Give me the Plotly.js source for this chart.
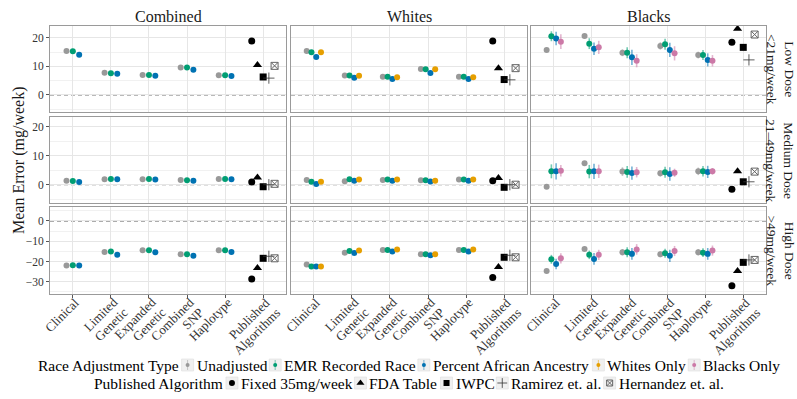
<!DOCTYPE html>
<html><head><meta charset="utf-8">
<script src="https://cdn.plot.ly/plotly-3.0.1.min.js"></script>
<style>html,body{margin:0;padding:0;background:#fff}#chart{width:797px;height:399px}</style>
</head><body><div id="chart"></div>
<script>
// ---------------- data ----------------
const categories = ["Clinical", "Limited\nGenetic", "Expanded\nGenetic", "Combined\nSNP", "Haplotype", "Published\nAlgorithms"];
const populations = ["Combined", "Whites", "Blacks"];
const doses = ["Low Dose\n<21mg/week", "Medium Dose\n21–49mg/week", "High Dose\n>49mg/week"];
const raceTypes = ["Unadjusted", "EMR Recorded Race", "Percent African Ancestry", "Whites Only", "Blacks Only"];
const raceColors = ["#999999", "#009E73", "#0072B2", "#E69F00", "#CC79A7"];
const algorithms = ["Fixed 35mg/week", "FDA Table", "IWPC", "Ramirez et. al.", "Hernandez et. al."];
// race adjustment types shown in each population column (indices into raceTypes)
const popRaceTypes = [[0, 1, 2], [0, 1, 2, 3], [0, 1, 2, 4]];

// mean error, rows = race type (in popRaceTypes order), columns = first five categories
const lowCombined = [[15.4, 7.8, 7.0, 9.6, 6.9], [15.3, 7.6, 7.0, 9.6, 6.9], [14.1, 7.4, 6.7, 8.8, 6.6]];
const lowWhites = [[15.4, 6.8, 6.4, 9.1, 6.4], [15.0, 6.8, 6.4, 9.0, 6.4], [13.3, 6.0, 5.6, 7.7, 5.6], [15.0, 6.7, 6.2, 9.0, 6.2]];
const lowBlacks = [[15.8, 20.7, 14.8, 17.2, 14.0], [20.6, 18.0, 14.8, 17.8, 14.0], [19.8, 16.2, 13.2, 15.8, 12.3], [18.7, 16.7, 12.0, 14.6, 12.0]];
const medCombined = [[1.4, 1.9, 1.9, 1.6, 2.0], [1.3, 2.0, 2.0, 1.5, 2.0], [0.9, 1.9, 1.8, 1.4, 1.9]];
const medWhites = [[1.6, 1.2, 1.6, 1.5, 1.8], [1.0, 1.9, 1.8, 1.5, 1.8], [0.2, 1.4, 1.4, 1.1, 1.4], [1.0, 1.8, 1.8, 1.4, 1.8]];
const medBlacks = [[-0.7, 7.4, 4.5, 3.9, 4.6], [4.6, 4.5, 4.4, 4.3, 4.6], [4.6, 4.6, 4.0, 3.7, 4.4], [4.8, 4.6, 4.3, 4.1, 4.6]];
const highCombined = [[-22.0, -15.3, -14.4, -16.4, -14.4], [-21.8, -15.1, -14.4, -16.4, -14.4], [-22.0, -16.6, -15.4, -17.1, -15.3]];
const highWhites = [[-21.5, -15.6, -14.3, -16.4, -14.3], [-22.5, -14.8, -14.3, -16.4, -14.3], [-22.5, -15.8, -15.1, -16.9, -15.1], [-22.5, -14.6, -14.1, -16.4, -14.1]];
const highBlacks = [[-24.6, -13.8, -15.4, -16.4, -15.4], [-18.9, -16.7, -15.4, -15.9, -15.6], [-21.2, -18.7, -16.2, -17.2, -16.2], [-18.4, -16.7, -14.0, -14.8, -14.6]];

// half-width of the interval around each mean error
const lowCombinedErr = [[0.3, 0.3, 0.3, 0.3, 0.3], [0.3, 0.3, 0.3, 0.3, 0.3], [0.5, 0.4, 0.4, 0.5, 0.4]];
const lowWhitesErr = [[0.3, 0.3, 0.3, 0.3, 0.3], [0.3, 0.3, 0.3, 0.3, 0.3], [0.5, 0.4, 0.4, 0.5, 0.4], [0.3, 0.3, 0.3, 0.3, 0.3]];
const lowBlacksErr = [[0.7, 0.7, 1.2, 1.3, 1.2], [1.75, 1.9, 1.9, 1.9, 1.75], [2.4, 2.2, 2.7, 2.5, 2.3], [2.6, 2.3, 2.3, 2.5, 2.0]];
const medCombinedErr = [[0.3, 0.3, 0.3, 0.3, 0.3], [0.3, 0.3, 0.3, 0.3, 0.3], [0.4, 0.4, 0.4, 0.4, 0.4]];
const medWhitesErr = [[0.3, 0.3, 0.3, 0.3, 0.3], [0.3, 0.3, 0.3, 0.3, 0.3], [0.4, 0.4, 0.4, 0.4, 0.4], [0.3, 0.3, 0.3, 0.3, 0.3]];
const medBlacksErr = [[0.6, 0.6, 1.5, 1.15, 1.3], [2.4, 2.3, 2.0, 1.9, 1.8], [2.8, 2.6, 2.3, 2.3, 2.1], [2.0, 2.3, 1.8, 1.4, 1.15]];
const highCombinedErr = [[0.5, 0.5, 0.5, 0.5, 0.5], [0.5, 0.5, 0.5, 0.5, 0.5], [0.9, 0.9, 0.9, 0.9, 0.9]];
const highWhitesErr = [[0.5, 0.5, 0.5, 0.5, 0.5], [0.5, 0.5, 0.5, 0.5, 0.5], [0.9, 0.9, 0.9, 0.9, 0.9], [0.5, 0.5, 0.5, 0.5, 0.5]];
const highBlacksErr = [[0.7, 0.7, 1.6, 1.5, 1.6], [2.2, 2.1, 2.5, 2.2, 2.2], [2.6, 2.9, 2.9, 3.0, 2.9], [2.5, 2.5, 2.6, 2.5, 2.5]];

// published algorithms: rows = population column, values in algorithm order
const lowAlgo = [[18.9, 10.5, 6.3, 5.9, 10.2], [18.9, 9.4, 5.4, 5.3, 9.4], [18.5, 23.2, 16.7, 12.3, 21.2]];
const medAlgo = [[0.9, 2.5, -0.7, 0.0, 0.3], [1.4, 2.3, -0.9, 0.0, 0.0], [-1.6, 4.6, 1.0, 1.0, 4.5]];
const highAlgo = [[-28.6, -23.2, -18.4, -17.4, -18.4], [-27.9, -22.7, -17.9, -16.9, -17.9], [-31.9, -24.6, -20.4, -19.2, -19.2]];

const yRanges = [[-6.0, 24.2], [-6.3, 23.3], [-36.0, 6.9]];

// --------------- layout helpers ---------------
const W = 797, H = 399;
const colPx = [[50, 286], [291, 527], [531, 766]];
const rowPx = [[26, 112], [117, 203], [207, 294]];
const FONT = "Liberation Serif, Times New Roman, serif";
const panelValues = [[lowCombined, lowWhites, lowBlacks], [medCombined, medWhites, medBlacks], [highCombined, highWhites, highBlacks]];
const panelErrors = [[lowCombinedErr, lowWhitesErr, lowBlacksErr], [medCombinedErr, medWhitesErr, medBlacksErr], [highCombinedErr, highWhitesErr, highBlacksErr]];
const panelAlgo = [lowAlgo, medAlgo, highAlgo];

const algoStyle = [
  {symbol: "circle", size: 7, color: "#000000", lw: 0},
  {symbol: "triangle-up", size: 8, color: "#000000", lw: 0},
  {symbol: "square", size: 7, color: "#000000", lw: 0},
  {symbol: "cross-thin-open", size: 8, color: "#333333", lw: 0.8},
  {symbol: "square-x-open", size: 7, color: "#666666", lw: 1}
];

function rgba(hex, a) {
  const n = parseInt(hex.slice(1), 16);
  return `rgba(${(n >> 16) & 255},${(n >> 8) & 255},${n & 255},${a})`;
}

const ctx = document.createElement("canvas").getContext("2d");
function textWidth(s, size) { ctx.font = size + "px 'Liberation Serif'"; return ctx.measureText(s).width; }

const traces = [];
const layout = {
  width: W, height: H,
  margin: {l: 0, r: 0, t: 0, b: 0},
  paper_bgcolor: "#ffffff", plot_bgcolor: "rgba(0,0,0,0)",
  font: {family: FONT, color: "#1a1a1a"},
  showlegend: false,
  shapes: [], annotations: []
};

const XL = 13;             // x category label font size
const S45 = Math.SQRT1_2;
const labelEnd = [4.2, 6]; // end of first label line relative to tick (px)
const labelStep = 14.5;    // line spacing of category labels (px)

for (let r = 0; r < 3; r++) {
  for (let c = 0; c < 3; c++) {
    const p = r * 3 + c + 1;
    const sfx = p === 1 ? "" : String(p);
    const xa = {
      domain: [colPx[c][0] / W, colPx[c][1] / W],
      range: [0.4, categories.length + 0.6], autorange: false,
      anchor: "y" + sfx,
      tickmode: "array",
      tickvals: categories.map((_, i) => i + 1),
      showticklabels: false,
      ticks: r === 2 ? "outside" : "", ticklen: 3, tickcolor: "#555",
      showgrid: true, gridcolor: "#e6e6e6", gridwidth: 1,
      showline: true, mirror: true, linecolor: "#9a9a9a", linewidth: 1,
      zeroline: false, fixedrange: true
    };
    const ya = {
      domain: [1 - rowPx[r][1] / H, 1 - rowPx[r][0] / H],
      range: yRanges[r], autorange: false,
      anchor: "x" + sfx,
      tickmode: "linear", tick0: 0, dtick: 10,
      minor: {tickmode: "linear", tick0: 0, dtick: 5, showgrid: true, gridcolor: "#f1f1f1", gridwidth: 1},
      showticklabels: c === 0,
      ticks: c === 0 ? "outside" : "", ticklen: 3, tickcolor: "#555",
      tickfont: {size: 11.5, color: "#333", family: FONT},
      showgrid: true, gridcolor: "#e6e6e6", gridwidth: 1,
      showline: true, mirror: true, linecolor: "#9a9a9a", linewidth: 1,
      zeroline: false, fixedrange: true
    };
    layout["xaxis" + sfx] = xa;
    layout["yaxis" + sfx] = ya;

    // dashed zero reference line
    layout.shapes.push({
      type: "line", xref: "x" + sfx, yref: "y" + sfx,
      x0: 0.4, x1: categories.length + 0.6, y0: 0, y1: 0, layer: "below",
      line: {color: "#555555", width: 1, dash: "4px,3px"}
    });

    // category labels under the bottom row: rotated 45°, each line right-justified at the tick
    if (r === 2) {
      categories.forEach((cat, i) => {
        cat.split("\n").forEach((line, k) => {
          const w = textWidth(line, XL);
          const ex = labelEnd[0] + S45 * labelStep * k;
          const ey = labelEnd[1] + S45 * labelStep * k;
          layout.annotations.push({
            text: line, xref: "x" + sfx, x: i + 1, yref: "paper", y: 1 - rowPx[2][1] / H,
            xanchor: "center", yanchor: "middle",
            xshift: ex - S45 * w / 2, yshift: -(ey + S45 * w / 2),
            textangle: -45, showarrow: false, borderpad: 0,
            font: {size: XL, color: "#333", family: FONT}
          });
        });
      });
    }

    // race-adjusted model points (dodged)
    const types = popRaceTypes[c];
    const n = types.length;
    const dodge = 0.5;
    types.forEach((t, j) => {
      const off = (j - (n - 1) / 2) * dodge / n;
      const vals = panelValues[r][c][j];
      const errs = panelErrors[r][c][j];
      traces.push({
        type: "scatter", mode: "markers",
        xaxis: "x" + sfx, yaxis: "y" + sfx,
        name: raceTypes[t],
        x: vals.map((_, i) => i + 1 + off),
        y: vals,
        error_y: {type: "data", array: errs, visible: true, width: 0, thickness: 1.6, color: rgba(raceColors[t], 0.55)},
        marker: {color: raceColors[t], size: 6, line: {width: 0}},
        hoverinfo: "skip", showlegend: false
      });
    });

    // published algorithms (dodged around last category)
    const av = panelAlgo[r][c];
    const aDodge = 0.75;
    algorithms.forEach((a, k) => {
      const off = (k - (algorithms.length - 1) / 2) * aDodge / algorithms.length;
      const st = algoStyle[k];
      traces.push({
        type: "scatter", mode: "markers",
        xaxis: "x" + sfx, yaxis: "y" + sfx,
        name: a,
        x: [categories.length + off], y: [av[k]],
        marker: {symbol: st.symbol, size: st.size, color: st.color, line: {width: st.lw, color: st.color}},
        hoverinfo: "skip", showlegend: false
      });
    });
  }
}

// strip labels
populations.forEach((pop, c) => {
  layout.annotations.push({
    text: pop, xref: "paper", yref: "paper",
    x: (colPx[c][0] + colPx[c][1]) / 2 / W, y: 1 - 17 / H,
    xanchor: "center", yanchor: "middle", showarrow: false,
    font: {size: 16, color: "#1a1a1a", family: FONT}
  });
});
doses.forEach((d, r) => {
  layout.annotations.push({
    text: d.replace("<", "&lt;").replace(">", "&gt;").replace("\n", "<br>"),
    xref: "paper", yref: "paper",
    x: 780 / W, y: 1 - (rowPx[r][0] + rowPx[r][1]) / 2 / H,
    xanchor: "center", yanchor: "middle", showarrow: false, textangle: 90,
    font: {size: 13.5, color: "#1a1a1a", family: FONT}
  });
});
// y axis title
layout.annotations.push({
  text: "Mean Error (mg/week)", xref: "paper", yref: "paper",
  x: 19 / W, y: 1 - 160 / H, xanchor: "center", yanchor: "middle",
  showarrow: false, textangle: -90,
  font: {size: 16, color: "#1a1a1a", family: FONT}
});

// --------------- legend (two rows, centred under the panels) ---------------
layout.xaxis10 = {domain: [0, 1], range: [0, W], autorange: false, visible: false, fixedrange: true, anchor: "y10"};
layout.yaxis10 = {domain: [0, 1], range: [H, 0], autorange: false, visible: false, fixedrange: true, anchor: "x10"};
const LF = 15.5;
const tw = s => textWidth(s, LF);
const KEY = 12, G1 = 3, G2 = 2;
const centerX = (colPx[0][0] + colPx[2][1]) / 2;
const legendRows = [
  {title: "Race Adjustment Type", yc: 365, items: raceTypes.map((t, i) => ({label: t, kind: "race", color: raceColors[i]}))},
  {title: "Published Algorithm", yc: 383, items: algorithms.map((t, i) => ({label: t, kind: "algo", st: algoStyle[i]}))}
];
legendRows.forEach(row => {
  let total = tw(row.title);
  row.items.forEach(it => { total += G1 + KEY + G2 + tw(it.label); });
  let x = centerX - total / 2;
  layout.annotations.push({
    text: row.title, xref: "paper", yref: "paper", x: x / W, y: 1 - row.yc / H,
    xanchor: "left", yanchor: "middle", showarrow: false, borderpad: 0,
    font: {size: LF, color: "#000", family: FONT}
  });
  x += tw(row.title);
  row.items.forEach(it => {
    x += G1;
    layout.shapes.push({
      type: "rect", xref: "paper", yref: "paper", layer: "below",
      x0: x / W, x1: (x + KEY) / W, y0: 1 - (row.yc + KEY / 2) / H, y1: 1 - (row.yc - KEY / 2) / H,
      fillcolor: "#f0f0f0", line: {color: "#dddddd", width: 0.6}
    });
    if (it.kind === "race") {
      traces.push({
        type: "scatter", mode: "markers", xaxis: "x10", yaxis: "y10",
        x: [x + KEY / 2], y: [row.yc],
        error_y: {type: "data", array: [5], visible: true, width: 0, thickness: 1, color: rgba(it.color, 0.5)},
        marker: {color: it.color, size: 4}, hoverinfo: "skip", showlegend: false
      });
    } else {
      traces.push({
        type: "scatter", mode: "markers", xaxis: "x10", yaxis: "y10",
        x: [x + KEY / 2], y: [row.yc],
        marker: {symbol: it.st.symbol, size: it.st.size - 1, color: it.st.color, line: {width: it.st.lw, color: it.st.color}},
        hoverinfo: "skip", showlegend: false
      });
    }
    x += KEY + G2;
    layout.annotations.push({
      text: it.label, xref: "paper", yref: "paper", x: x / W, y: 1 - row.yc / H,
      xanchor: "left", yanchor: "middle", showarrow: false, borderpad: 0,
      font: {size: LF, color: "#000", family: FONT}
    });
    x += tw(it.label);
  });
});

Plotly.newPlot("chart", traces, layout, {staticPlot: true, displayModeBar: false});
</script>
</body></html>
